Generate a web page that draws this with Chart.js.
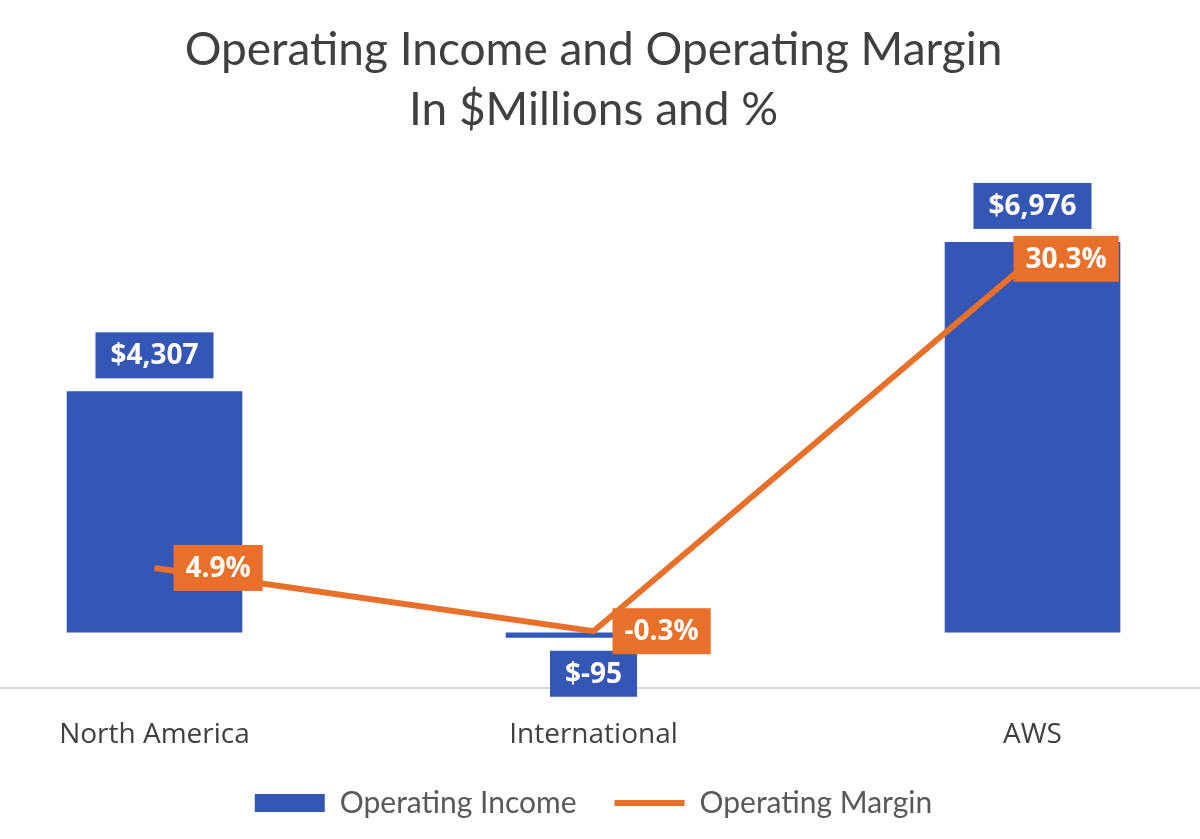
<!DOCTYPE html>
<html>
<head>
<meta charset="utf-8">
<script src="https://cdn.jsdelivr.net/npm/chart.js@4.4.1/dist/chart.umd.min.js"></script>
<style>
  html, body { margin: 0; padding: 0; background: #fff; overflow: hidden; }
  #wrap { position: absolute; left: -65px; top: 0; width: 1317px; height: 839px; }
</style>
</head>
<body>
<div id="wrap"><canvas id="opChart"></canvas></div>
<script>
// data
const segments = ['North America', 'International', 'AWS'];
const operatingIncome = [4307, -95, 6976];   // $ millions
const operatingMargin = [4.9, -0.3, 30.3];   // %

const blue = '#3457B6';
const orange = '#E8702A';

// small label boxes like the Excel data labels
const boxLabels = {
    id: 'boxLabels',
    afterDatasetsDraw(chart) {
        const ctx = chart.ctx;
        ctx.save();
        ctx.font = 'bold 28px "Open Sans"';
        ctx.textAlign = 'center';
        ctx.textBaseline = 'middle';
        chart.data.datasets.forEach((ds, i) => {
            const meta = chart.getDatasetMeta(i);
            meta.data.forEach((el, j) => {
                const v = ds.data[j];
                let text, cx, cy;
                if (ds.type === 'bar') {
                    text = '$' + v.toLocaleString('en-US');
                    const tw = ctx.measureText(text).width;
                    const bw = tw + 30, bh = 46;
                    cx = el.x;
                    cy = v >= 0 ? el.y - 13 - bh / 2 : el.y + 13 + bh / 2;
                    ctx.fillStyle = blue;
                    ctx.fillRect(cx - bw / 2, cy - bh / 2, bw, bh);
                } else {
                    text = v.toFixed(1) + '%';
                    const tw = ctx.measureText(text).width;
                    const bw = tw + 24, bh = 46;
                    cx = el.x + ds.labelDx[j] + bw / 2;
                    cy = el.y;
                    ctx.fillStyle = orange;
                    ctx.fillRect(cx - bw / 2, cy - bh / 2, bw, bh);
                }
                ctx.fillStyle = '#ffffff';
                ctx.fillText(text, cx, cy + 1);
            });
        });
        ctx.restore();
    }
};

const ctx = document.getElementById('opChart').getContext('2d');
const opChart = new Chart(ctx, {
    data: {
        labels: segments,
        datasets: [{
            type: 'bar',
            label: 'Operating Income',
            data: operatingIncome,
            backgroundColor: blue,
            borderWidth: 0,
            categoryPercentage: 1,
            barPercentage: 0.4,
            pointStyle: 'rect',
            yAxisID: 'y',
            order: 1
        }, {
            type: 'line',
            label: 'Operating Margin',
            data: operatingMargin,
            borderColor: orange,
            backgroundColor: orange,
            borderWidth: 6,
            pointRadius: 0,
            pointStyle: 'line',
            tension: 0,
            labelDx: [19, 19, -19],
            yAxisID: 'y1',
            order: 0
        }]
    },
    options: {
        responsive: true,
        maintainAspectRatio: false,
        animation: false,
        layout: { padding: { top: 0, bottom: 11, left: 0, right: 0 } },
        plugins: {
            title: {
                display: true,
                text: ['Operating Income and Operating Margin', 'In $Millions and %'],
                color: '#404040',
                font: { family: 'Lato', size: 46, weight: 'normal', lineHeight: 1.3 },
                padding: { top: 20, bottom: 45 }
            },
            legend: {
                position: 'bottom',
                labels: {
                    usePointStyle: true,
                    pointStyleWidth: 70,
                    boxHeight: 18,
                    padding: 38,
                    color: '#595959',
                    font: { family: 'Lato', size: 30 },
                    sort: (a, b) => a.datasetIndex - b.datasetIndex
                }
            },
            tooltip: { enabled: false }
        },
        scales: {
            x: {
                grid: { display: false, drawTicks: false },
                border: { display: true, color: '#d9d9d9', width: 2 },
                ticks: { color: '#404040', padding: 30, font: { family: 'Open Sans', size: 28 } },
                afterFit: (scale) => { scale.height -= 32; }
            },
            y: {
                display: false,
                min: -1000,
                max: 8000
            },
            y1: {
                display: false,
                min: -5,
                max: 36.4
            }
        }
    },
    plugins: [boxLabels]
});
</script>
</body>
</html>
